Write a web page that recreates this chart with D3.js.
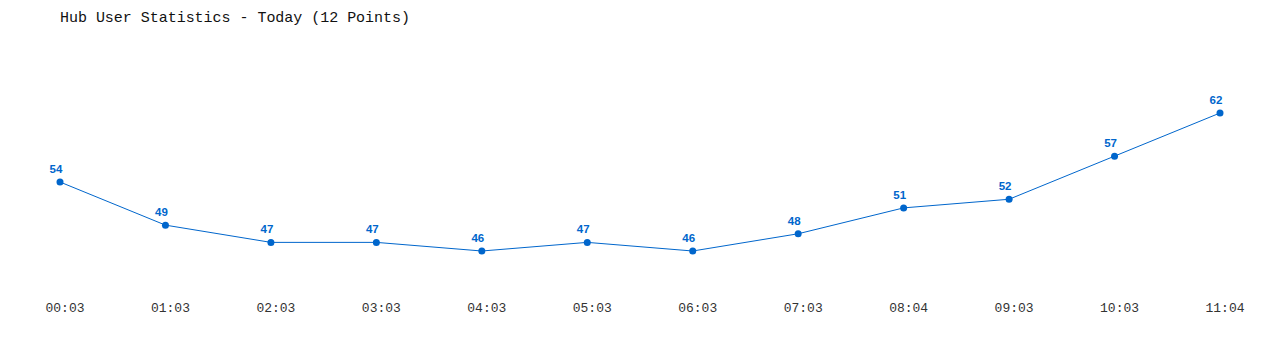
<!DOCTYPE html>
<html>
<head>
<meta charset="utf-8">
<script src="https://cdn.jsdelivr.net/npm/d3@7"></script>
<style>
  body { margin: 0; background: #fff; }
  .title { font-family: "Liberation Mono", "DejaVu Sans Mono", monospace; font-size: 15px; fill: #111; }
  .tick-label { font-family: "Liberation Mono", "DejaVu Sans Mono", monospace; font-size: 13px; fill: #333; }
  .val { font-family: "Liberation Sans", Arial, sans-serif; font-size: 11.5px; font-weight: bold; fill: #0066cc; }
</style>
</head>
<body>
<svg id="chart"></svg>
<script>
var times = ["00:03", "01:03", "02:03", "03:03", "04:03", "05:03", "06:03", "07:03", "08:04", "09:03", "10:03", "11:04"];
var users = [54, 49, 47, 47, 46, 47, 46, 48, 51, 52, 57, 62];

var width = 1280, height = 350;
var svg = d3.select("#chart")
  .attr("width", width)
  .attr("height", height);

svg.append("text")
  .attr("class", "title")
  .attr("x", 60)
  .attr("y", 22)
  .attr("textLength", 350)
  .text("Hub User Statistics - Today (12 Points)");

var x = d3.scalePoint()
  .domain(times)
  .range([60, 1220]);

var y = d3.scaleLinear()
  .domain([46, 62])
  .range([251, 113]);

var line = d3.line()
  .x(function(d, i) { return x(times[i]); })
  .y(function(d) { return y(d); });

svg.append("path")
  .datum(users)
  .attr("fill", "none")
  .attr("stroke", "#0066cc")
  .attr("stroke-width", 1)
  .attr("d", line);

svg.selectAll(".dot")
  .data(users)
  .enter().append("circle")
  .attr("class", "dot")
  .attr("cx", function(d, i) { return x(times[i]); })
  .attr("cy", function(d) { return y(d); })
  .attr("r", 3.5)
  .attr("fill", "#0066cc");

svg.selectAll(".val")
  .data(users)
  .enter().append("text")
  .attr("class", "val")
  .attr("text-anchor", "middle")
  .attr("x", function(d, i) { return x(times[i]) - 4; })
  .attr("y", function(d) { return y(d) - 9; })
  .text(function(d) { return d; });

svg.selectAll(".tick-label")
  .data(times)
  .enter().append("text")
  .attr("class", "tick-label")
  .attr("text-anchor", "middle")
  .attr("x", function(d) { return x(d) + 5; })
  .attr("y", 312)
  .text(function(d) { return d; });
</script>
</body>
</html>
